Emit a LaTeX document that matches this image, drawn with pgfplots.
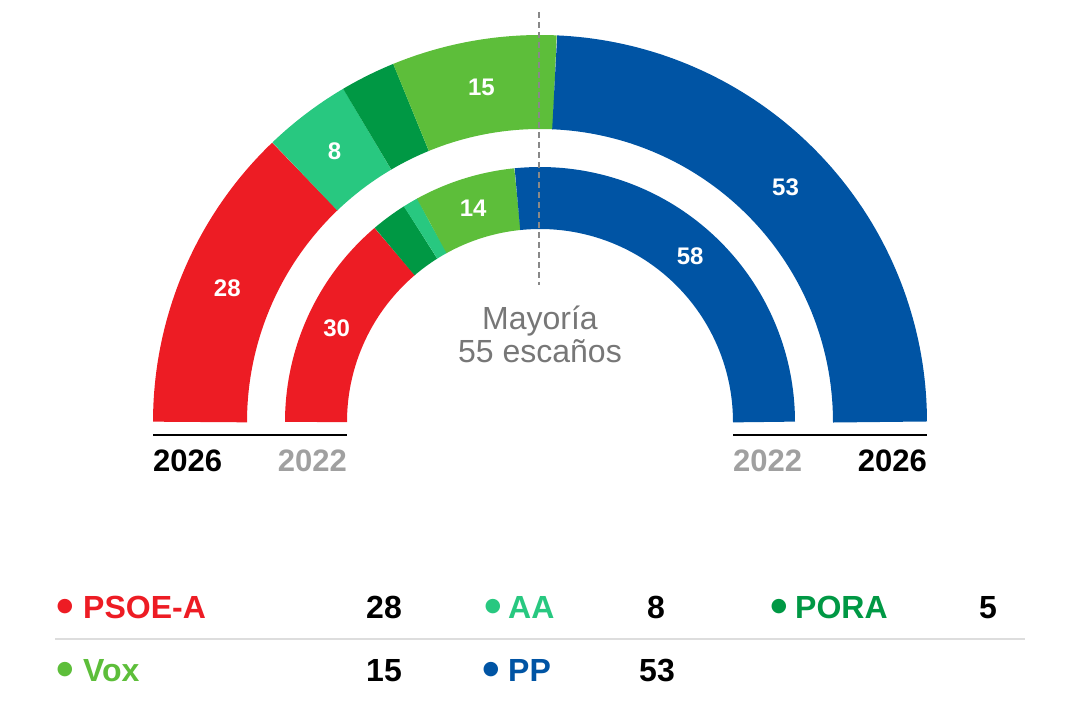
\documentclass[border=0pt]{standalone}
\usepackage{pgfplots}
\pgfplotsset{compat=1.18}
\usepackage{fontspec}
\setmainfont{Liberation Sans}
\newfontfamily\dejavu{DejaVu Sans}
\definecolor{psoe}{HTML}{ED1C24}
\definecolor{aa}{HTML}{28C880}
\definecolor{pora}{HTML}{009844}
\definecolor{vox}{HTML}{5DBE3A}
\definecolor{pp}{HTML}{0054A4}
\definecolor{gray22}{HTML}{A0A0A0}
\definecolor{graytxt}{HTML}{777777}
\definecolor{dashc}{HTML}{888888}
\definecolor{sepc}{HTML}{DDDDDD}
% segment: color, mid radius, ring width, seats before, seats (total 109)
\newcommand{\seg}[5]{%
  \addplot[draw=#1, line width=#3pt, line cap=butt, line join=round, no marks,
    domain={180-(#4+#5)*180/109}:{180-(#4)*180/109}, samples=80, variable=\t]
    ({540+#2*cos(\t)}, {299+#2*sin(\t)});
}
\newcommand{\seglabel}[4]{% radius, seats before, seats, text
  \node[font=\bfseries\fontsize{24}{24}\selectfont, text=white, inner sep=0pt]
    at (axis cs:{540+#1*cos(180-(#2+#3/2)*180/109)},{299+#1*sin(180-(#2+#3/2)*180/109)}) {#4};
}
\begin{document}
\begin{tikzpicture}
\begin{axis}[x=1pt, y=1pt, xmin=0, xmax=1080, ymin=0, ymax=721,
  hide axis, clip=false]
\path (axis cs:0,0) rectangle (axis cs:1080,721);
% 2026 (outer ring): PSOE-A 28, AA 8, PORA 5, Vox 15, PP 53
\seg{psoe}{340}{94}{0}{28}
\seg{aa}{340}{94}{28}{8}
\seg{pora}{340}{94}{36}{5}
\seg{vox}{340}{94}{41}{15}
\seg{pp}{340}{94}{56}{53}
% 2022 (inner ring): PSOE-A 30, PORA 5, AA 2, Vox 14, PP 58
\seg{psoe}{224}{62}{0}{30}
\seg{pora}{224}{62}{30}{5}
\seg{aa}{224}{62}{35}{2}
\seg{vox}{224}{62}{37}{14}
\seg{pp}{224}{62}{51}{58}
% labels
\seglabel{340}{0}{28}{28}
\seglabel{340}{28}{8}{8}
\seglabel{340}{41}{15}{15}
\seglabel{340}{56}{53}{53}
\seglabel{224}{0}{30}{30}
\seglabel{224}{37}{14}{14}
\seglabel{224}{51}{58}{58}
% majority line
\draw[dashc, line width=2pt, dash pattern=on 6pt off 4pt] (axis cs:539,709) -- (axis cs:539,436);
\node[anchor=base, inner sep=0pt, text=graytxt, font=\fontsize{32}{32}\selectfont] at (axis cs:540,391) {Mayoría};
\node[anchor=base, inner sep=0pt, text=graytxt, font=\fontsize{32}{32}\selectfont] at (axis cs:540,358) {55 escaños};
% baselines and year labels
\draw[black, line width=2.5pt] (axis cs:153,286) -- (axis cs:347,286);
\draw[black, line width=2.5pt] (axis cs:733,286) -- (axis cs:927,286);
\node[anchor=base west, inner sep=0pt, font=\bfseries\fontsize{31}{31}\selectfont] at (axis cs:153,249) {2026};
\node[anchor=base east, inner sep=0pt, text=gray22, font=\bfseries\fontsize{31}{31}\selectfont] at (axis cs:347,249) {2022};
\node[anchor=base west, inner sep=0pt, text=gray22, font=\bfseries\fontsize{31}{31}\selectfont] at (axis cs:733,249) {2022};
\node[anchor=base east, inner sep=0pt, font=\bfseries\fontsize{31}{31}\selectfont] at (axis cs:927,249) {2026};
% legend
\draw[sepc, line width=2pt] (axis cs:55,82) -- (axis cs:1025,82);
\tikzset{ldot/.style={anchor=center, inner sep=0pt, font=\dejavu\fontsize{19}{19}\selectfont},
         ltxt/.style={anchor=base west, inner sep=0pt, font=\bfseries\fontsize{32}{32}\selectfont},
         lnum/.style={anchor=base east, inner sep=0pt, font=\bfseries\fontsize{32}{32}\selectfont}}
\node[ldot, text=psoe] at (axis cs:65,114) {●};
\node[ltxt, text=psoe] at (axis cs:83,102) {PSOE-A};
\node[lnum] at (axis cs:402,102) {28};
\node[ldot, text=aa] at (axis cs:493,114) {●};
\node[ltxt, text=aa] at (axis cs:508,102) {AA};
\node[lnum] at (axis cs:665,102) {8};
\node[ldot, text=pora] at (axis cs:779,114) {●};
\node[ltxt, text=pora] at (axis cs:795,102) {PORA};
\node[lnum] at (axis cs:997,102) {5};
\node[ldot, text=vox] at (axis cs:65,51) {●};
\node[ltxt, text=vox] at (axis cs:83,39) {Vox};
\node[lnum] at (axis cs:402,39) {15};
\node[ldot, text=pp] at (axis cs:491,51) {●};
\node[ltxt, text=pp] at (axis cs:508,39) {PP};
\node[lnum] at (axis cs:675,39) {53};
\end{axis}
\end{tikzpicture}
\end{document}
